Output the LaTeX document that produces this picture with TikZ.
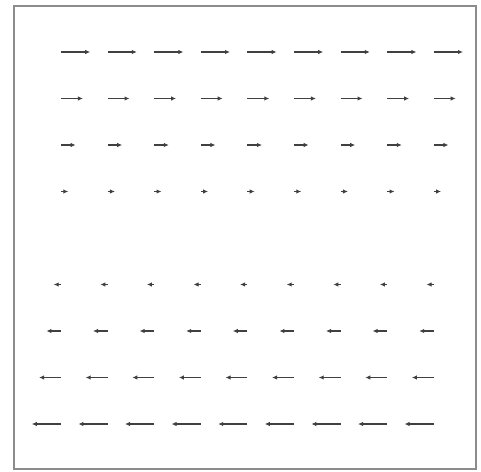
\documentclass[tikz,border=0pt]{standalone}
\usetikzlibrary{arrows.meta}
\begin{document}
\begin{tikzpicture}[x=1bp,y=-1bp,
  frame/.style={draw=black!45,line width=1.3bp},
  vec/.style={draw=black!75,line width=1.1bp,-{Latex[length=5bp,width=4.5bp]}}]
\useasboundingbox (0,0) rectangle (481,472);
\draw[frame] (14,6) rectangle (476,469);
\foreach \r in {0,...,8}{
  \foreach \c in {0,...,8}{
    \pgfmathsetmacro{\L}{7.3*(4-\r)}
    \pgfmathsetmacro{\X}{61+46.6*\c}
    \pgfmathsetmacro{\Y}{52+46.5*\r}
    \ifnum\r=4\else
      \draw[vec] (\X,\Y) -- ++(\L,0);
    \fi
  }
}
\end{tikzpicture}
\end{document}
